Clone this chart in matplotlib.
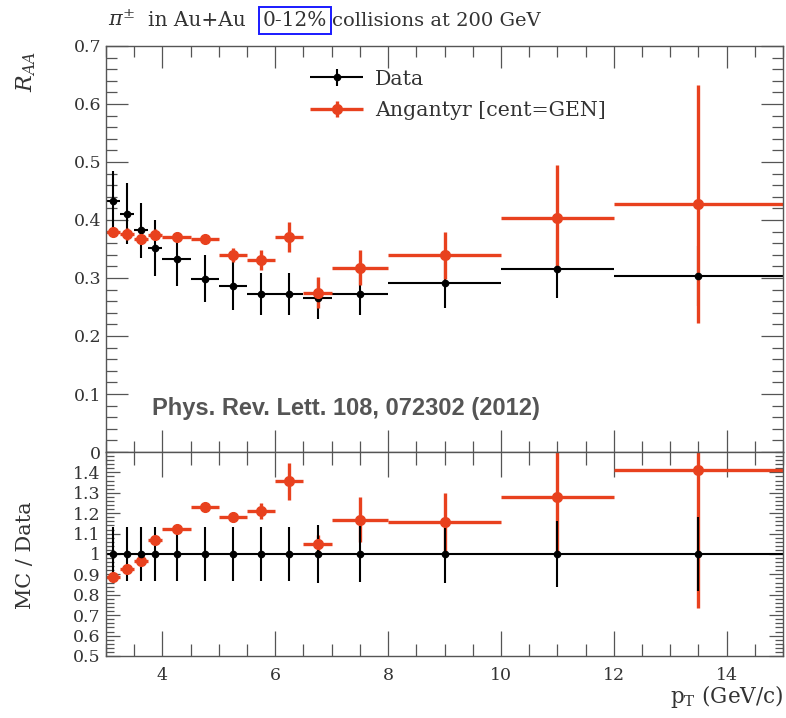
import matplotlib
matplotlib.use("Agg")
import matplotlib.pyplot as plt
from matplotlib.ticker import MultipleLocator, FixedLocator
from matplotlib.legend_handler import HandlerErrorbar
import numpy as np

# ---------------- data ----------------
pt = [3.125, 3.375, 3.625, 3.875, 4.25, 4.75, 5.25, 5.75, 6.25, 6.75, 7.5, 9.0, 11.0, 13.5]
pt_err = [0.125, 0.125, 0.125, 0.125, 0.25, 0.25, 0.25, 0.25, 0.25, 0.25, 0.5, 1.0, 1.0, 1.5]

data_raa = [0.433, 0.411, 0.382, 0.352, 0.332, 0.299, 0.287, 0.273, 0.273, 0.265, 0.273, 0.292, 0.315, 0.303]
data_err = [0.052, 0.052, 0.048, 0.048, 0.045, 0.040, 0.043, 0.036, 0.036, 0.035, 0.037, 0.043, 0.050, 0.052]

mc_raa = [0.380, 0.376, 0.368, 0.375, 0.371, 0.368, 0.340, 0.331, 0.371, 0.275, 0.318, 0.339, 0.404, 0.428]
mc_err = [0.008, 0.010, 0.010, 0.010, 0.008, 0.006, 0.012, 0.017, 0.026, 0.026, 0.030, 0.040, 0.090, 0.205]

ratio_data = [1.0] * 14
ratio_data_err = [0.13, 0.13, 0.13, 0.13, 0.13, 0.13, 0.13, 0.13, 0.13, 0.14, 0.137, 0.143, 0.16, 0.18]
ratio_mc = [0.887, 0.926, 0.966, 1.069, 1.122, 1.232, 1.181, 1.210, 1.357, 1.049, 1.167, 1.157, 1.280, 1.410]
ratio_mc_err = [0.02, 0.02, 0.02, 0.02, 0.015, 0.015, 0.025, 0.04, 0.09, 0.045, 0.11, 0.14, 0.28, 0.675]

upper_yticks = [0, 0.1, 0.2, 0.3, 0.4, 0.5, 0.6, 0.7]
upper_ylabels = ['0', '0.1', '0.2', '0.3', '0.4', '0.5', '0.6', '0.7']
lower_yticks = [0.5, 0.6, 0.7, 0.8, 0.9, 1.0, 1.1, 1.2, 1.3, 1.4]
lower_ylabels = ['0.5', '0.6', '0.7', '0.8', '0.9', '1', '1.1', '1.2', '1.3', '1.4']
xticks = [4, 6, 8, 10, 12, 14]

RED = '#e8411e'
AXC = '#555555'
TXT = '#333333'

plt.rcParams['mathtext.fontset'] = 'dejavuserif'
plt.rcParams['font.family'] = ['DejaVu Serif']

W, H = 786, 718
fig = plt.figure(figsize=(W / 100, H / 100), dpi=100)

L, R = 106 / W, 783 / W
top_u, bot_u = 1 - 46 / H, 1 - 452 / H
bot_l = 1 - 656 / H
ax1 = fig.add_axes([L, bot_u, R - L, top_u - bot_u])
ax2 = fig.add_axes([L, bot_l, R - L, bot_u - bot_l], sharex=ax1)

# upper panel
h_data = ax1.errorbar(pt, data_raa, yerr=data_err, xerr=pt_err, fmt='o', color='black',
                      ms=4.5, lw=1.5, capsize=0, label='Data')
h_mc = ax1.errorbar(pt, mc_raa, yerr=mc_err, xerr=pt_err, fmt='o', color=RED,
                    ms=7, lw=2.4, capsize=0, label='Angantyr [cent=GEN]')

# lower panel
ax2.errorbar(pt, ratio_mc, yerr=ratio_mc_err, xerr=pt_err, fmt='o', color=RED,
             ms=7, lw=2.4, capsize=0)
ax2.errorbar(pt, ratio_data, yerr=ratio_data_err, xerr=pt_err, fmt='o', color='black',
             ms=4.5, lw=1.5, capsize=0)

ax1.set_xlim(3, 15)
ax1.set_ylim(0, 0.7)
ax2.set_ylim(0.5, 1.5)

for ax in (ax1, ax2):
    for s in ax.spines.values():
        s.set_color(AXC)
        s.set_linewidth(1.0)
    ax.xaxis.set_major_locator(FixedLocator(xticks))
    ax.xaxis.set_minor_locator(MultipleLocator(0.5))
    ax.tick_params(which='both', direction='in', top=True, right=True, color=AXC,
                   width=0.9, labelsize=12.5, labelcolor=TXT)

ax1.yaxis.set_major_locator(FixedLocator(upper_yticks))
ax1.yaxis.set_minor_locator(MultipleLocator(0.02))
ax1.tick_params(axis='x', which='major', length=16)
ax1.tick_params(axis='x', which='minor', length=8)
ax1.tick_params(axis='y', which='major', length=16)
ax1.tick_params(axis='y', which='minor', length=8)
ax1.tick_params(axis='x', labelbottom=False)
ax1.set_yticklabels(upper_ylabels)

ax2.yaxis.set_major_locator(FixedLocator(lower_yticks))
ax2.yaxis.set_minor_locator(MultipleLocator(0.02))
ax2.tick_params(axis='x', which='major', length=18, pad=8)
ax2.tick_params(axis='x', which='minor', length=9)
ax2.tick_params(axis='y', which='major', length=10, pad=4)
ax2.tick_params(axis='y', which='minor', length=6)
ax2.set_yticklabels(lower_ylabels)
ax2.set_xticklabels([str(t) for t in xticks])

# legend
hl = 2.6
leg = ax1.legend(handles=[h_data, h_mc], loc='upper left', bbox_to_anchor=(0.289, 0.962),
                 frameon=False, fontsize=14.8, handlelength=hl, handletextpad=0.55,
                 labelspacing=0.6, borderaxespad=0,
                 handler_map={type(h_data): HandlerErrorbar(xerr_size=hl / 2, yerr_size=0.4)})
for t in leg.get_texts():
    t.set_color(TXT)

# annotation
ax1.text(0.068, 0.108, 'Phys. Rev. Lett. 108, 072302 (2012)', transform=ax1.transAxes,
         family=['Liberation Sans', 'DejaVu Sans'], fontweight='bold', fontsize=17,
         color='#555555', va='center', ha='left')

# title pieces, middle one boxed
TY = 1 - 26 / H
fig.text(108 / W, TY, r'$\pi^{\pm}$', fontsize=15, color=TXT, va='baseline', ha='left')
fig.text(148 / W, TY, 'in Au+Au', fontsize=14.5, color=TXT, va='baseline', ha='left')
fig.text(263 / W, TY, '0-12%', fontsize=14.5, color=TXT, va='baseline', ha='left',
         bbox=dict(boxstyle='square,pad=0.2', fc='none', ec='#1a1aff', lw=1.4))
fig.text(332 / W, TY, 'collisions at 200 GeV', fontsize=14, color=TXT,
         va='baseline', ha='left')

# axis labels
fig.text(26 / W, 1 - 72 / H, r'$R_{AA}$', rotation=90, fontsize=16, color=TXT,
         ha='center', va='center')
fig.text(26 / W, 1 - 555 / H, 'MC / Data', rotation=90, fontsize=15, color=TXT,
         ha='center', va='center')
fig.text(783 / W, 1 - 697 / H, r'p$_{\rm T}$ (GeV/c)', fontsize=15.5, color=TXT,
         ha='right', va='center')

fig.savefig('out.png', dpi=100)
